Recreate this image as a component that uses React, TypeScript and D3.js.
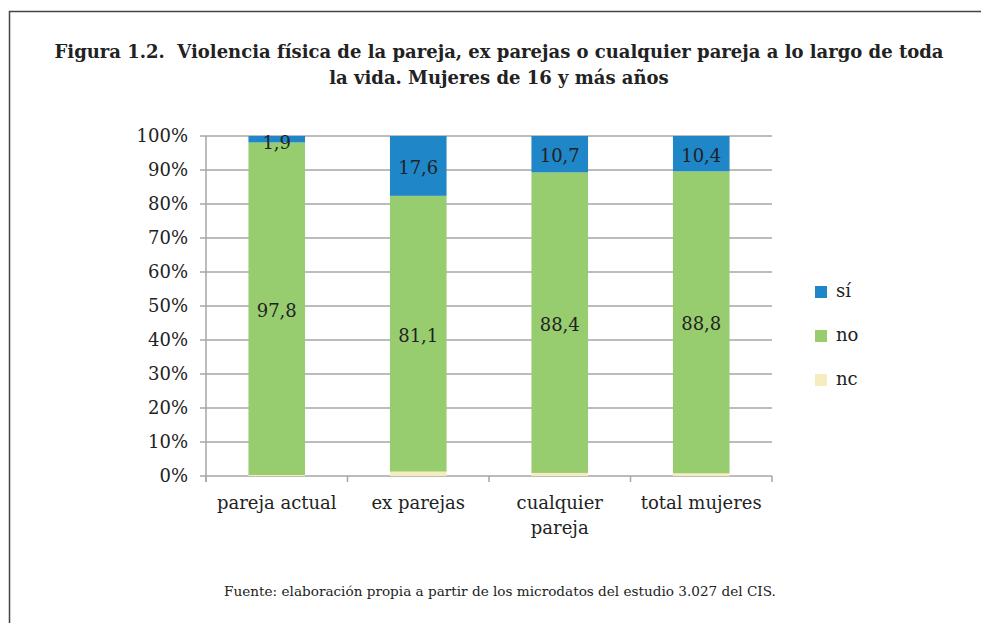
import * as d3 from "d3";
import { useEffect, useRef } from "react";

const categories = ["pareja actual", "ex parejas", "cualquier pareja", "total mujeres"];
const categoryLines = [["pareja actual"], ["ex parejas"], ["cualquier", "pareja"], ["total mujeres"]];
const series = ["nc", "no", "sí"];
const ncValues = [0.3, 1.3, 0.9, 0.8];
const noValues = [97.8, 81.1, 88.4, 88.8];
const siValues = [1.9, 17.6, 10.7, 10.4];
const yTicks = [0, 10, 20, 30, 40, 50, 60, 70, 80, 90, 100];
const legendOrder = ["sí", "no", "nc"];
const colors: Record<string, string> = { "sí": "#1f86c8", no: "#97cd6f", nc: "#f5ecbf" };

const FONT = "'DejaVu Serif', serif";

export default function App() {
  const svgRef = useRef<SVGSVGElement | null>(null);

  useEffect(() => {
    const svg = d3.select(svgRef.current);
    const width = 981;
    const height = 623;
    const margin = { top: 136, right: 209, bottom: 147, left: 206 };

    svg.selectAll("*").remove();
    svg.attr("width", width).attr("height", height);

    svg
      .append("path")
      .attr("d", `M9.5,${height} V11.5 H${width}`)
      .attr("fill", "none")
      .attr("stroke", "#444")
      .attr("stroke-width", 1.5);

    const title = svg
      .append("text")
      .attr("text-anchor", "middle")
      .attr("font-family", FONT)
      .attr("font-weight", "bold")
      .attr("font-size", "18px")
      .attr("fill", "#222");
    title.append("tspan").attr("x", 499).attr("y", 58).text("Figura 1.2.\u00a0 Violencia física de la pareja, ex parejas o cualquier pareja a lo largo de toda");
    title.append("tspan").attr("x", 499).attr("y", 84).text("la vida. Mujeres de 16 y más años");

    const x = d3
      .scaleBand()
      .domain(categories)
      .range([margin.left, width - margin.right])
      .paddingInner(0.6)
      .paddingOuter(0.3);

    const y = d3
      .scaleLinear()
      .domain([0, 100])
      .range([height - margin.bottom, margin.top]);

    // gridlines + y ticks
    svg
      .selectAll(".grid")
      .data(yTicks)
      .enter()
      .append("line")
      .attr("x1", margin.left - 6)
      .attr("x2", width - margin.right)
      .attr("y1", (d) => y(d))
      .attr("y2", (d) => y(d))
      .attr("stroke", "#a6a6a6")
      .attr("stroke-width", 1.5);

    svg
      .selectAll(".ylab")
      .data(yTicks)
      .enter()
      .append("text")
      .attr("x", 188)
      .attr("y", (d) => y(d) + 6)
      .attr("text-anchor", "end")
      .attr("font-family", FONT)
      .attr("font-size", "18px")
      .attr("fill", "#222")
      .text((d) => `${d}%`);

    svg
      .append("line")
      .attr("x1", margin.left)
      .attr("x2", margin.left)
      .attr("y1", y(100))
      .attr("y2", y(0) + 6)
      .attr("stroke", "#a6a6a6")
      .attr("stroke-width", 1.5);

    const step = (width - margin.right - margin.left) / categories.length;
    svg
      .selectAll(".xtick")
      .data(d3.range(categories.length + 1))
      .enter()
      .append("line")
      .attr("x1", (i) => margin.left + i * step)
      .attr("x2", (i) => margin.left + i * step)
      .attr("y1", y(0))
      .attr("y2", y(0) + 6)
      .attr("stroke", "#a6a6a6")
      .attr("stroke-width", 1.5);

    const table = categories.map((c, i) => ({ cat: c, nc: ncValues[i], no: noValues[i], "sí": siValues[i] }));
    const stacked = d3.stack<any>().keys(series)(table);

    svg
      .selectAll(".layer")
      .data(stacked)
      .enter()
      .append("g")
      .attr("fill", (d) => colors[d.key])
      .selectAll("rect")
      .data((d) => d)
      .enter()
      .append("rect")
      .attr("x", (d) => x(d.data.cat)!)
      .attr("width", x.bandwidth())
      .attr("y", (d) => y(Math.min(d[1], 100)))
      .attr("height", (d) => y(d[0]) - y(Math.min(d[1], 100)));

    // labels for sí and no
    const fmt = (v: number) => v.toFixed(1).replace(".", ",");
    stacked
      .filter((s) => s.key !== "nc")
      .forEach((s) => {
        svg
          .selectAll(`.lab-${s.key}`)
          .data(s)
          .enter()
          .append("text")
          .attr("x", (d) => x(d.data.cat)! + x.bandwidth() / 2)
          .attr("y", (d) => {
            const mid = y((d[0] + Math.min(d[1], 100)) / 2);
            return s.key === "sí" && d.data["sí"] < 5 ? y(100) + 13 : mid + 8;
          })
          .attr("text-anchor", "middle")
          .attr("font-family", FONT)
          .attr("font-size", "18px")
          .attr("fill", "#222")
          .text((d) => fmt(d.data[s.key]));
      });

    // category labels
    categories.forEach((c, i) => {
      const t = svg
        .append("text")
        .attr("text-anchor", "middle")
        .attr("font-family", FONT)
        .attr("font-size", "18px")
        .attr("fill", "#222");
      categoryLines[i].forEach((line, j) => {
        t.append("tspan")
          .attr("x", x(c)! + x.bandwidth() / 2)
          .attr("y", 509 + j * 25)
          .text(line);
      });
    });

    // legend
    const legend = svg
      .selectAll(".legend")
      .data(legendOrder)
      .enter()
      .append("g")
      .attr("transform", (_d, i) => `translate(815,${286 + i * 44})`);
    legend
      .append("rect")
      .attr("width", 12)
      .attr("height", 12)
      .attr("fill", (d) => colors[d]);
    legend
      .append("text")
      .attr("x", 21)
      .attr("y", 11)
      .attr("font-family", FONT)
      .attr("font-size", "18px")
      .attr("fill", "#222")
      .text((d) => d);

    svg
      .append("text")
      .attr("x", 500)
      .attr("y", 596)
      .attr("text-anchor", "middle")
      .attr("font-family", FONT)
      .attr("font-size", "13.6px")
      .attr("fill", "#222")
      .text("Fuente: elaboración propia a partir de los microdatos del estudio 3.027 del CIS.");
  }, []);

  return <svg ref={svgRef} style={{ position: "absolute", left: 0, top: 0 }}></svg>;
}
